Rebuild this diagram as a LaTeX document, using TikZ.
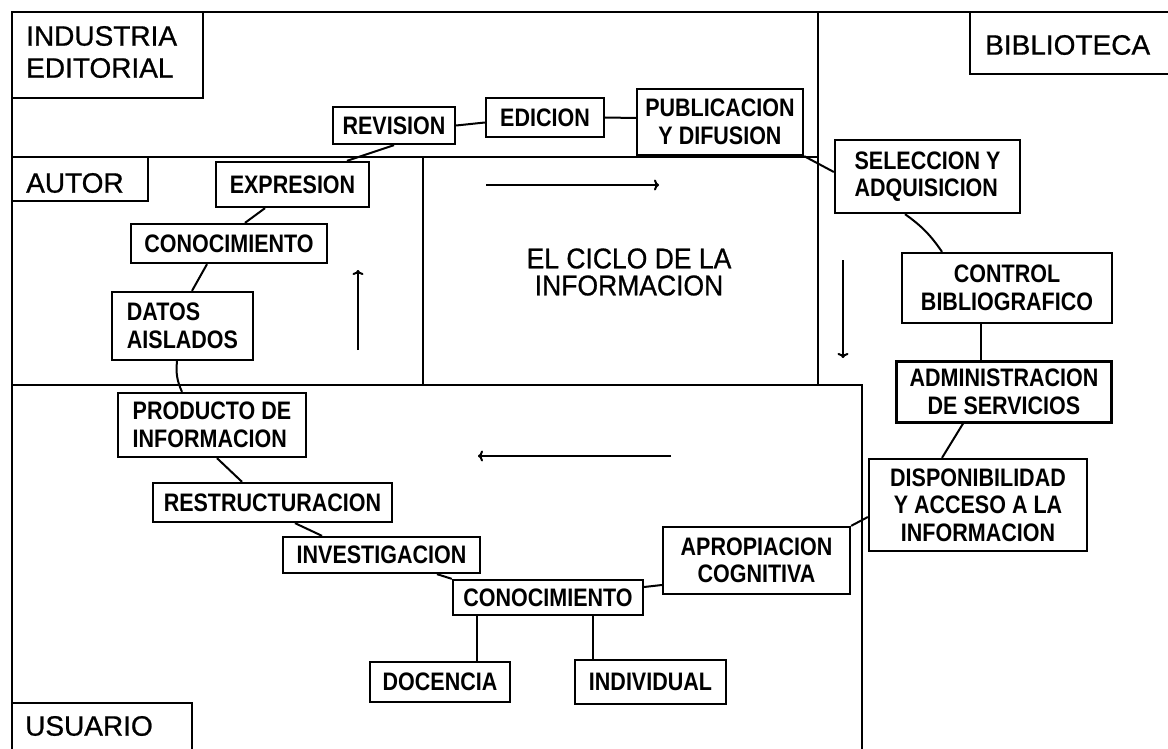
\documentclass[tikz,border=0pt]{standalone}
\usepackage{fontspec}
\setmainfont{Liberation Sans}
\newfontfamily\nf{Liberation Sans Bold}[FakeStretch=0.85]
\newfontfamily\lf{Liberation Sans}[FakeBold=0.8]
\newfontfamily\cf{Liberation Sans}[FakeBold=0.8, FakeStretch=0.93]
\usetikzlibrary{arrows.meta,calc}
\begin{document}
\begin{tikzpicture}[x=1pt,y=-1pt,
  frame/.style={line width=2.3pt},
  box/.style={draw, line width=2.3pt, inner sep=0pt, font=\nf\fontsize{25.3}{27.5}\selectfont, align=center},
  wh/.style 2 args={minimum width=#1pt, minimum height=#2pt},
  lbl/.style={font=\lf\fontsize{28}{32}\selectfont, inner sep=0pt, anchor=west, align=left},
  link/.style={line width=2pt},
  arr/.style={line width=2pt, -{To[length=5pt,width=11pt]}}]
\useasboundingbox (0,0) rectangle (1168,749);
\fill[white] (0,0) rectangle (1168,749);
% frames
\draw[frame] (12,749) -- (12,12) -- (1168,12);
\draw[frame] (12,98) -- (203,98) -- (203,12);
\draw[frame] (12,157) -- (818,157);
\draw[frame] (818,12) -- (818,385);
\draw[frame] (423,157) -- (423,385);
\draw[frame] (12,385) -- (862,385) -- (862,749);
\draw[frame] (12,201) -- (148,201) -- (148,157);
\draw[frame] (970,12) -- (970,74) -- (1168,74);
\draw[frame] (12,703) -- (192,703) -- (192,749);
% region labels
\node[lbl] (industria) at (26,52) {INDUSTRIA\\EDITORIAL};
\node[lbl] (autor) at (26,183) {AUTOR};
\node[lbl] (biblioteca) at (985,45) {BIBLIOTECA};
\node[lbl] (usuario) at (25,726) {USUARIO};
\node[font=\cf\fontsize{28.5}{27}\selectfont, align=center, inner sep=0pt] (ciclo) at (629,272) {EL CICLO DE LA\\INFORMACION};
% process boxes
\node[box, wh={122}{37}] (revision) at (394,125.5) {REVISION};
\node[box, wh={118}{39}] (edicion) at (545,117.5) {EDICION};
\node[box, wh={166}{66}] (publicacion) at (720,122) {PUBLICACION\\Y DIFUSION};
\node[box, wh={153}{45}] (expresion) at (292.5,184.5) {EXPRESION};
\node[box, wh={196}{39}] (conoc1) at (229,243.5) {CONOCIMIENTO};
\node[box, wh={141}{68}, align=left] (datos) at (182.5,326) {DATOS\\AISLADOS};
\node[box, wh={188}{64}, align=left] (producto) at (212,425) {PRODUCTO DE\\INFORMACION};
\node[box, wh={239}{39}] (restr) at (272.5,502.5) {RESTRUCTURACION};
\node[box, wh={197}{36}] (invest) at (381.5,555) {INVESTIGACION};
\node[box, wh={190}{35}] (conoc2) at (548,597.5) {CONOCIMIENTO};
\node[box, wh={140}{40}] (docencia) at (440,682) {DOCENCIA};
\node[box, wh={151}{44}] (individual) at (650.5,682) {INDIVIDUAL};
\node[box, wh={187}{67}] (apropiacion) at (756.5,560.5) {APROPIACION\\COGNITIVA};
\node[box, wh={218}{92}] (disponib) at (978,505) {DISPONIBILIDAD\\Y ACCESO A LA\\INFORMACION};
\node[box, wh={215}{61}] (admin) at (1004,392) {ADMINISTRACION\\DE SERVICIOS};
\node[box, wh={210}{70}] (control) at (1007,288) {CONTROL\\BIBLIOGRAFICO};
\node[box, wh={185}{73}, align=left] (seleccion) at (927.5,176.5) {SELECCION Y\\ADQUISICION};
% connectors
\draw[link] (revision.east) -- ([yshift=-5pt]edicion.west);
\draw[link] (edicion.east) -- ([yshift=4pt]publicacion.west);
\draw[link] (revision.south) -- ([xshift=54.5pt]expresion.north);
\draw[link] ([xshift=-27.5pt]expresion.south) -- ([xshift=16pt]conoc1.north);
\draw[link] ([xshift=-22pt]conoc1.south) -- ([xshift=9.5pt]datos.north);
\draw[link] ([xshift=-5.5pt]datos.south) to[bend right=15] ([xshift=-30pt]producto.north);
\draw[link] ([xshift=5pt]producto.south) -- ([xshift=-30.5pt]restr.north);
\draw[link] ([xshift=22.5pt]restr.south) -- ([xshift=-59.5pt]invest.north);
\draw[link] ([xshift=55.5pt]invest.south) -- (conoc2.north west);
\draw[link] ([xshift=-71pt]conoc2.south) -- ([xshift=37pt]docencia.north);
\draw[link] ([xshift=45pt]conoc2.south) -- ([xshift=-57.5pt]individual.north);
\draw[link] ([yshift=10.5pt]conoc2.east) -- ([yshift=-24.5pt]apropiacion.west);
\draw[link] (apropiacion.north east) -- ([yshift=-12pt]disponib.west);
\draw[link] ([xshift=-41pt]admin.south) -- ([xshift=-36pt]disponib.north);
\draw[link] ([xshift=-26pt]control.south) -- ([xshift=-23pt]admin.north);
\draw[link] ([xshift=-22.5pt]seleccion.south) to[bend left=10] ([xshift=-65pt]control.north);
\draw[link] (publicacion.south east) -- ([yshift=4.5pt]seleccion.west);
% direction arrows
\coordinate (upA) at (358,350); \coordinate (upB) at (358,270);
\coordinate (rtA) at (486,185); \coordinate (rtB) at (659,185);
\coordinate (dnA) at (843,260); \coordinate (dnB) at (843,358);
\coordinate (lfA) at (671,456); \coordinate (lfB) at (478,456);
\draw[arr] (upA) -- (upB);
\draw[arr] (rtA) -- (rtB);
\draw[arr] (dnA) -- (dnB);
\draw[arr] (lfA) -- (lfB);
\end{tikzpicture}
\end{document}
